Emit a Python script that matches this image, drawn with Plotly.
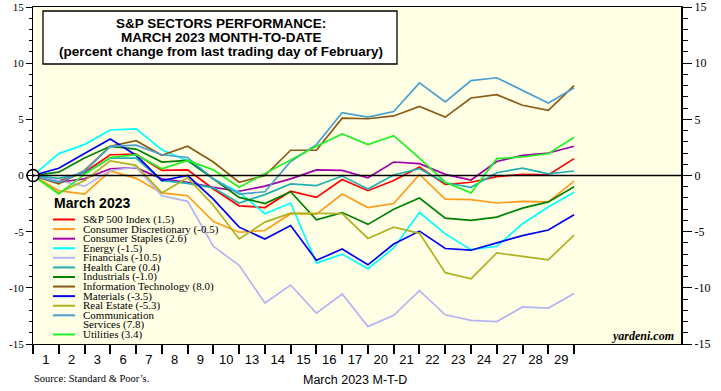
import plotly.graph_objects as go

# ---------------- data ----------------
days = ["1", "2", "3", "6", "7", "8", "9", "10", "13", "14", "15", "16", "17",
        "20", "21", "22", "23", "24", "27", "28", "29"]

sp500 = [0, -0.5, 0.3, 1.85, 1.9, 0.45, 0.5, -1.2, -2.7, -2.85, -1.4, -1.95, -0.35,
         -1.35, -0.45, 0.75, -0.8, -0.6, -0.1, 0.1, 0.05, 1.5]
cons_disc = [0, -1.35, -1.65, 0.4, -0.25, -1.55, -1.8, -4.1, -5.05, -4.9, -3.4, -3.45,
             -1.65, -2.85, -2.5, 0.1, -2.1, -2.15, -2.45, -2.3, -2.35, -0.5]
cons_stap = [0, -0.6, -0.3, 0.6, 0.7, -0.3, -0.6, -1.05, -1.4, -0.95, -0.3, 0.5, 0.45,
             -0.2, 1.2, 1.05, 0.1, -0.4, 1.25, 1.8, 2.0, 2.6]
energy = [0, 1.95, 2.75, 4.05, 4.15, 2.3, 1.3, -0.3, -1.5, -3.4, -2.45, -7.8, -7.0,
          -8.3, -6.45, -3.3, -5.2, -6.6, -6.3, -4.3, -2.8, -1.5]
financials = [0, -0.45, -0.95, 0.45, 0.75, -1.8, -2.3, -6.3, -8.0, -11.35, -9.75,
              -12.25, -10.55, -13.45, -12.45, -10.25, -12.4, -12.9, -13.0, -11.7, -11.8, -10.5]
health = [0, -0.25, 0.2, 1.55, 1.55, -0.45, -0.7, -1.1, -2.45, -1.7, -0.75, -0.9, -0.05,
          -1.2, 0.05, 0.6, -0.65, -1.05, 0.25, 0.65, 0.15, 0.4]
industrials = [0, 0.3, 1.55, 2.6, 2.35, 1.2, 1.35, -0.3, -1.95, -2.5, -1.45, -3.95, -3.3,
               -4.35, -3.0, -2.0, -3.8, -4.0, -3.7, -2.9, -2.35, -1.0]
info_tech = [0, -0.75, 0.45, 2.6, 3.1, 1.8, 2.6, 1.2, -0.6, 0.0, 2.25, 2.25, 5.1, 5.05,
             5.3, 6.15, 5.2, 6.9, 7.2, 6.25, 5.8, 8.0]
materials = [0, 0.65, 1.95, 3.25, 1.8, -0.45, 0.0, -2.1, -4.6, -5.65, -4.45, -7.55, -6.55,
             -7.95, -6.1, -4.95, -6.5, -6.65, -6.0, -5.35, -4.85, -3.5]
real_estate = [0, -1.55, -0.45, 1.3, 0.9, -1.55, -0.2, -2.65, -5.65, -4.15, -3.35, -3.35,
               -3.4, -5.6, -4.6, -5.15, -8.65, -9.2, -6.9, -7.2, -7.5, -5.3]
comm_serv = [0, -0.6, 0.4, 2.6, 2.7, 1.85, 1.6, -0.3, -1.65, -1.45, 1.25, 2.75, 5.6, 5.2,
             5.7, 8.25, 6.55, 8.45, 8.7, 7.55, 6.45, 7.8]
utilities = [0, -1.65, 0.1, 1.6, 1.85, 0.6, 1.35, 0.5, -1.05, 0.15, 1.4, 2.6, 3.7, 2.75,
             3.55, 1.55, -0.6, -1.55, 1.5, 1.65, 1.95, 3.4]

sector_names = ["S&P 500 Index", "Consumer Discretionary", "Consumer Staples", "Energy",
                "Financials", "Health Care", "Industrials", "Information Technology",
                "Materials", "Real Estate", "Communication\nServices", "Utilities"]
sector_values = [sp500, cons_disc, cons_stap, energy, financials, health, industrials,
                 info_tech, materials, real_estate, comm_serv, utilities]

y_ticks = [-15, -10, -5, 0, 5, 10, 15]

# ---------------- style ----------------
colors = ["#FF0000", "#FF9B1A", "#A000A8", "#00FFFF", "#B4B4F4", "#20B2B2", "#008000",
          "#8B5A14", "#0000F0", "#B0B020", "#4A9ED2", "#22F022"]

W, H = 721, 391
L, R, T, B = 33, 681, 7, 344


def px(x):
    return (x - L) / (R - L)


def py(y):
    return (B - y) / (B - T)


fig = go.Figure()

for name, vals, col in zip(sector_names, sector_values, colors):
    fig.add_trace(go.Scatter(
        x=list(range(len(vals))), y=vals, mode="lines",
        line=dict(color=col, width=1.7), name=name.replace("\n", " "),
        showlegend=False, hoverinfo="skip"))

# zero line
fig.add_shape(type="line", xref="paper", yref="y", x0=0, x1=1, y0=0, y1=0,
              line=dict(color="black", width=1.6), layer="above")

# origin marker
fig.add_trace(go.Scatter(x=[0], y=[0], mode="markers", yaxis="y2",
                         marker=dict(symbol="circle-dot", size=12, color="white",
                                     line=dict(color="black", width=1.6)),
                         cliponaxis=False, showlegend=False, hoverinfo="skip"))

# title box
fig.add_shape(type="rect", xref="paper", yref="paper", x0=px(43), x1=px(397),
              y0=py(64), y1=py(11), fillcolor="white", line=dict(color="black", width=1.3),
              layer="above")
title_lines = ["S&P SECTORS PERFORMANCE:", "MARCH 2023 MONTH-TO-DATE",
               "(percent change from last trading day of February)"]
for i, t in enumerate(title_lines):
    fig.add_annotation(text="<b>" + t + "</b>", x=px(221), y=py(24 + i * 13.6),
                       xref="paper", yref="paper", showarrow=False,
                       xanchor="center", yanchor="middle",
                       font=dict(family="Liberation Sans", size=13.5, color="black"))

# legend (manual)
fig.add_annotation(text="<b>March 2023</b>", x=px(52), y=py(203), xref="paper", yref="paper",
                   showarrow=False, xanchor="left", yanchor="middle",
                   font=dict(family="Liberation Sans", size=14, color="black"))
row = 0
row_h = 9.58
for name, vals, col in zip(sector_names, sector_values, colors):
    lines = name.split("\n")
    lines[-1] = lines[-1] + " (%.1f)" % vals[-1]
    yy = 219.5 + row * row_h
    fig.add_shape(type="line", xref="paper", yref="paper", x0=px(53), x1=px(75),
                  y0=py(yy), y1=py(yy), line=dict(color=col, width=2), layer="above")
    for ln in lines:
        yy = 219.5 + row * row_h
        fig.add_annotation(text=ln, x=px(82), y=py(yy), xref="paper", yref="paper",
                           showarrow=False, xanchor="left", yanchor="middle", borderpad=0,
                           font=dict(family="Liberation Serif", size=11, color="black"))
        row += 1

# other texts
fig.add_annotation(text="<b><i>yardeni.com</i></b>", x=px(676), y=py(336), xref="paper",
                   yref="paper", showarrow=False, xanchor="right", yanchor="middle",
                   font=dict(family="Liberation Serif", size=12, color="black"))
fig.add_annotation(text="Source: Standard &amp; Poor\u2019s.", x=px(32), y=py(378), xref="paper",
                   yref="paper", showarrow=False, xanchor="left", yanchor="middle",
                   font=dict(family="Liberation Serif", size=10.5, color="black"))
fig.add_annotation(text="March 2023 M-T-D", x=px(355), y=py(380), xref="paper",
                   yref="paper", showarrow=False, xanchor="center", yanchor="middle",
                   font=dict(family="Liberation Sans", size=12.5, color="black"))

yaxis_common = dict(range=[-15, 15], tickmode="array", tickvals=y_ticks,
                    ticktext=[str(v) for v in y_ticks], ticks="outside",
                    tickcolor="black", showgrid=False, zeroline=False, showline=True,
                    linecolor="black", fixedrange=True, automargin=False)

fig.update_layout(
    width=W, height=H,
    margin=dict(l=L, r=W - R, t=T, b=H - B, autoexpand=False),
    paper_bgcolor="white", plot_bgcolor="#FFFFE6",
    showlegend=False,
    xaxis=dict(range=[0, 25.15], tickmode="array",
               tickvals=[i + 0.5 for i in range(len(days))], ticktext=days,
               ticks="", showgrid=False, zeroline=False, showline=True, mirror=True,
               linecolor="black", linewidth=1.3, automargin=False, fixedrange=True,
               tickfont=dict(family="Liberation Sans", size=13, color="black"),
               ticklabelstandoff=3,
               minor=dict(tickmode="array", tickvals=list(range(len(days) + 1)),
                          ticks="outside", ticklen=9, tickwidth=1.5, tickcolor="black",
                          showgrid=False)),
    yaxis=dict(**yaxis_common, side="left", ticklen=6, linewidth=1.3,
               tickfont=dict(family="Liberation Serif", size=11, color="black"),
               minor=dict(dtick=1, ticks="outside", ticklen=3, tickcolor="black",
                          showgrid=False)),
    yaxis2=dict(**yaxis_common, side="right", overlaying="y", anchor="x", ticklen=9,
                linewidth=2.2, tickwidth=1.3,
                tickfont=dict(family="Liberation Serif", size=12, color="black"),
                minor=dict(dtick=1, ticks="outside", ticklen=5, tickcolor="black",
                           showgrid=False)),
)

fig.write_html("out.html", config={"displayModeBar": False},
               post_script="document.body.style.margin='0';")
